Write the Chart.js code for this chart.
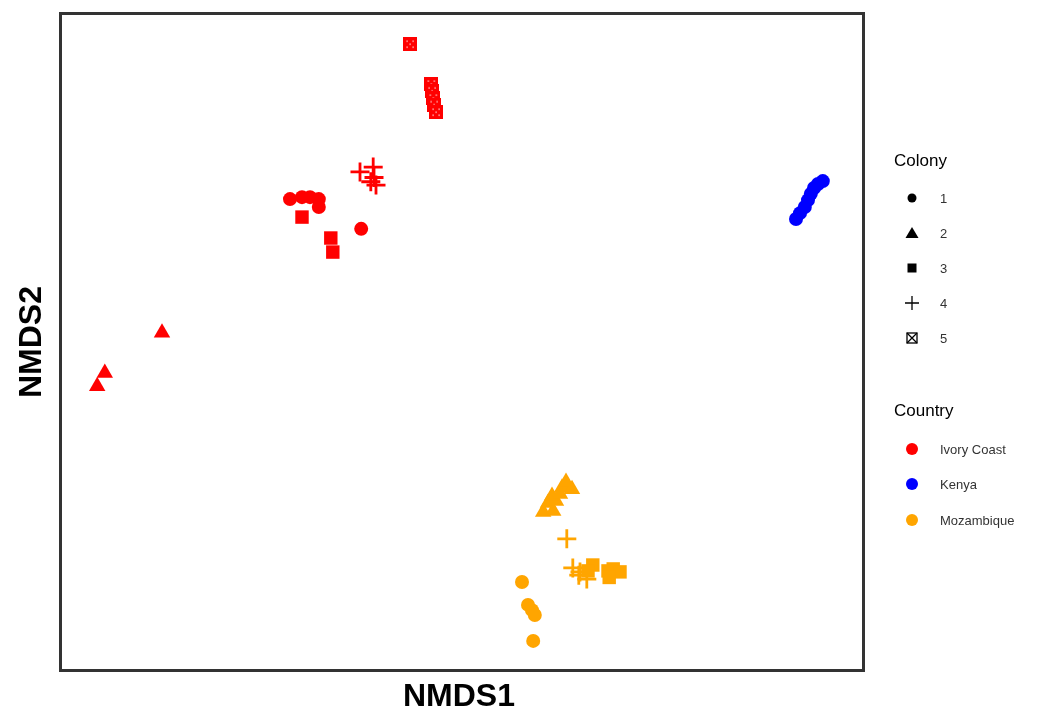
<!DOCTYPE html>
<html>
<head>
<meta charset="utf-8">
<script src="https://cdn.jsdelivr.net/npm/chart.js@4.4.1/dist/chart.umd.min.js"></script>
<style>
  html,body{margin:0;padding:0;background:#fff;}
  #wrap{width:1045px;height:711px;position:relative;}
</style>
</head>
<body>
<div id="wrap"><canvas id="c" width="1045" height="711"></canvas></div>
<script>
// ---- Data (NMDS scores) ----
const countries = ["Ivory Coast", "Kenya", "Mozambique"];
const countryColors = ["#ff0000", "#0000ff", "#ffa500"];
const colonies = ["1", "2", "3", "4", "5"];

// Ivory Coast
const ic1 = [[-0.430,0.437],[-0.400,0.443],[-0.380,0.443],[-0.358,0.437],[-0.358,0.413],[-0.252,0.346]];
const ic2 = [[-0.750,0.028],[-0.893,-0.095],[-0.912,-0.135]];
const ic3 = [[-0.400,0.382],[-0.328,0.318],[-0.323,0.275]];
const ic4 = [[-0.255,0.520],[-0.222,0.535],[-0.220,0.503],[-0.215,0.480],[-0.228,0.490]];
const ic5 = [[-0.130,0.911],[-0.077,0.789],[-0.075,0.768],[-0.072,0.746],[-0.070,0.726],[-0.065,0.703]];
// Kenya
const ke1 = [[0.835,0.376],[0.845,0.394],[0.857,0.413],[0.865,0.434],[0.872,0.453],[0.880,0.471],[0.890,0.483],[0.902,0.492]];
// Mozambique
const mo1 = [[0.150,-0.734],[0.165,-0.804],[0.175,-0.820],[0.182,-0.835],[0.178,-0.914]];
const mo2 = [[0.203,-0.520],[0.228,-0.517],[0.215,-0.492],[0.235,-0.486],[0.225,-0.471],[0.245,-0.465],[0.250,-0.446],[0.265,-0.446],[0.260,-0.428],[0.275,-0.450]];
const mo3 = [[0.327,-0.682],[0.315,-0.700],[0.365,-0.700],[0.378,-0.694],[0.395,-0.703],[0.368,-0.720]];
const mo4 = [[0.262,-0.602],[0.277,-0.691],[0.295,-0.703],[0.312,-0.725],[0.292,-0.713]];

const xRange = [-1, 1];
const yRange = [-1, 1];

// ---- Marker images ----
function crossBox(color){
  const s = 14, c = document.createElement('canvas');
  c.width = s; c.height = s;
  const g = c.getContext('2d');
  g.fillStyle = color; g.fillRect(0,0,s,s);
  g.fillStyle = '#fff';
  [[4,4],[10,4],[7,7],[4,10],[10,10]].forEach(([x,y])=>{ g.fillRect(x-0.5,y-0.5,1.2,1.2); });
  return c;
}
function crossBoxLegend(){
  const s = 12, c = document.createElement('canvas');
  c.width = s; c.height = s;
  const g = c.getContext('2d');
  g.strokeStyle = '#000'; g.lineWidth = 1.3;
  g.strokeRect(1,1,s-2,s-2);
  g.beginPath(); g.moveTo(1,1); g.lineTo(s-1,s-1); g.moveTo(s-1,1); g.lineTo(1,s-1); g.stroke();
  return c;
}

const toPts = arr => arr.map(([x,y]) => ({x, y}));
const styleFor = (colony, color) => {
  switch(colony){
    case "1": return {pointStyle:'circle', pointRadius:7, backgroundColor:color, borderColor:color, borderWidth:0};
    case "2": return {pointStyle:'triangle', pointRadius:9.5, backgroundColor:color, borderColor:color, borderWidth:0};
    case "3": return {pointStyle:'rect', pointRadius:9.5, backgroundColor:color, borderColor:color, borderWidth:0};
    case "4": return {pointStyle:'cross', pointRadius:9.5, backgroundColor:color, borderColor:color, borderWidth:2.8};
    case "5": return {pointStyle:crossBox(color), pointRadius:7, backgroundColor:color, borderColor:color, borderWidth:0};
  }
};
const groups = [
  [0,"1",ic1],[0,"2",ic2],[0,"3",ic3],[0,"4",ic4],[0,"5",ic5],
  [1,"1",ke1],
  [2,"1",mo1],[2,"2",mo2],[2,"3",mo3],[2,"4",mo4]
];
const datasets = groups.map(([ci,col,arr]) => Object.assign({
  label: countries[ci] + " / " + col,
  data: toPts(arr),
  pointHoverRadius: 8
}, styleFor(col, countryColors[ci])));

// ---- Decorations plugin: frame, axis titles, legends ----
const deco = {
  id:'deco',
  afterDatasetsDraw(chart){
    const {ctx, chartArea:a} = chart;
    ctx.save();
    ctx.strokeStyle = '#333'; ctx.lineWidth = 3;
    ctx.strokeRect(a.left-1.5, a.top-1.5, a.right-a.left+3, a.bottom-a.top+3);
    ctx.fillStyle = '#000';
    ctx.font = 'bold 32px "Liberation Sans", Arial, sans-serif';
    ctx.textAlign = 'center'; ctx.textBaseline = 'alphabetic';
    ctx.fillText('NMDS1', (a.left+a.right)/2 - 3, 706);
    ctx.save();
    ctx.translate(41, (a.top+a.bottom)/2);
    ctx.rotate(-Math.PI/2);
    ctx.fillText('NMDS2', 0, 0);
    ctx.restore();

    // Colony legend
    ctx.textAlign = 'left'; ctx.textBaseline = 'middle';
    ctx.font = '17px "Liberation Sans", Arial, sans-serif';
    ctx.fillStyle = '#000';
    ctx.fillText('Colony', 894, 161);
    const ys = [198, 233, 268, 303, 338];
    ctx.font = '13px "Liberation Sans", Arial, sans-serif';
    colonies.forEach((lab, i) => {
      const y = ys[i], x = 912;
      ctx.fillStyle = '#000'; ctx.strokeStyle = '#000';
      if (lab === "1"){ ctx.beginPath(); ctx.arc(x, y, 4.5, 0, Math.PI*2); ctx.fill(); }
      else if (lab === "2"){ ctx.beginPath(); ctx.moveTo(x, y-6); ctx.lineTo(x+6.5, y+5); ctx.lineTo(x-6.5, y+5); ctx.closePath(); ctx.fill(); }
      else if (lab === "3"){ ctx.fillRect(x-4.5, y-4.5, 9, 9); }
      else if (lab === "4"){ ctx.lineWidth = 1.3; ctx.beginPath(); ctx.moveTo(x-7, y); ctx.lineTo(x+7, y); ctx.moveTo(x, y-7); ctx.lineTo(x, y+7); ctx.stroke(); }
      else { ctx.drawImage(crossBoxLegend(), x-6, y-6); }
      ctx.fillStyle = '#333';
      ctx.fillText(lab, 940, y+1);
    });

    // Country legend
    ctx.font = '17px "Liberation Sans", Arial, sans-serif';
    ctx.fillStyle = '#000';
    ctx.fillText('Country', 894, 411);
    const cy = [449, 484, 520];
    ctx.font = '13px "Liberation Sans", Arial, sans-serif';
    countries.forEach((lab, i) => {
      ctx.fillStyle = countryColors[i];
      ctx.beginPath(); ctx.arc(912, cy[i], 6, 0, Math.PI*2); ctx.fill();
      ctx.fillStyle = '#333';
      ctx.fillText(lab, 940, cy[i]+1);
    });
    ctx.restore();
  }
};

new Chart(document.getElementById('c'), {
  type: 'scatter',
  data: { datasets },
  options: {
    responsive: false,
    animation: false,
    layout: { padding: { left: 62, right: 183, top: 15, bottom: 42 } },
    scales: {
      x: { type:'linear', min: xRange[0], max: xRange[1], display: false },
      y: { type:'linear', min: yRange[0], max: yRange[1], display: false }
    },
    plugins: { legend: { display: false }, tooltip: { enabled: true } }
  },
  plugins: [deco]
});
</script>
</body>
</html>
